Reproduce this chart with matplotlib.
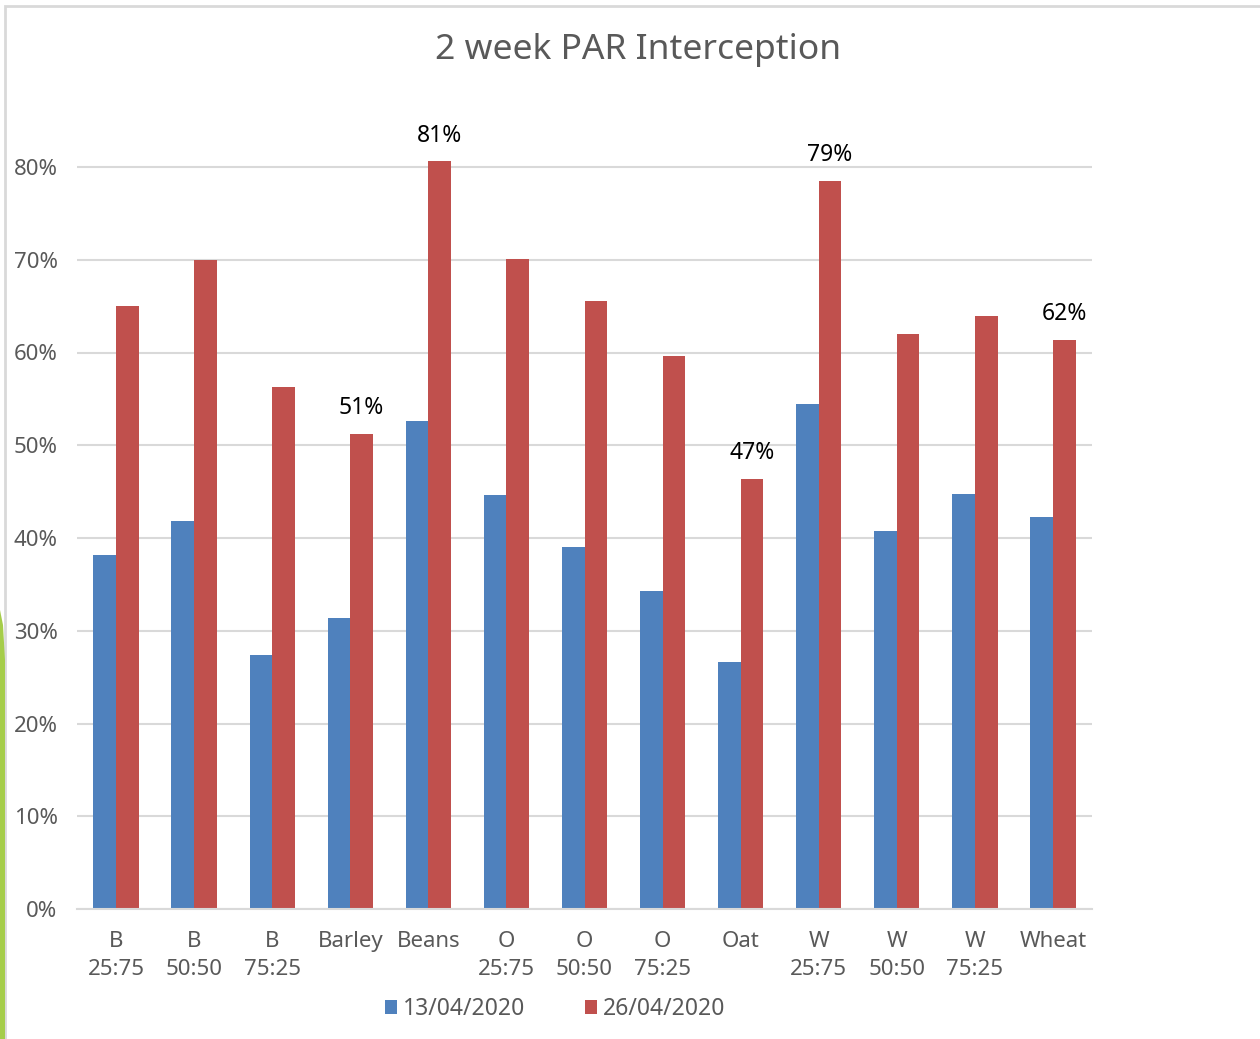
import numpy as np
import matplotlib.pyplot as plt
from matplotlib.patches import Rectangle, Polygon

categories = ["B\n25:75", "B\n50:50", "B\n75:25", "Barley", "Beans", "O\n25:75", "O\n50:50",
              "O\n75:25", "Oat", "W\n25:75", "W\n50:50", "W\n75:25", "Wheat"]
# values (fractions)
apr13 = [0.382, 0.418, 0.274, 0.314, 0.526, 0.446, 0.390, 0.343, 0.266, 0.544, 0.408, 0.447, 0.423]
apr26 = [0.650, 0.700, 0.563, 0.512, 0.806, 0.701, 0.656, 0.596, 0.464, 0.785, 0.620, 0.639, 0.614]
series_names = ["13/04/2020", "26/04/2020"]
# only some bars carry a data label
labelled = {"Barley": "51%", "Beans": "81%", "Oat": "47%", "W\n25:75": "79%", "Wheat": "62%"}

blue = "#4F81BD"
red = "#C0504D"
text_col = "#595959"

plt.rcParams['font.family'] = ['Noto Sans', 'DejaVu Sans']

fig = plt.figure(figsize=(12.6, 10.39), dpi=100)
# axes spans 0..85%, gridlines stop at 80%
ax = fig.add_axes([77/1260, 1 - 909/1039, (1092-77)/1260, (0.85*927.5)/1039])

x = np.arange(len(categories))
w = 0.29
ax.bar(x - w/2, apr13, w, color=blue, label=series_names[0], zorder=2)
ax.bar(x + w/2, apr26, w, color=red, label=series_names[1], zorder=2)

for i, cat in enumerate(categories):
    if cat in labelled:
        ax.annotate(labelled[cat], (x[i] + w/2, apr26[i]), xytext=(0, 10), textcoords='offset points',
                    ha='center', va='bottom', fontsize=16.5, color='black', annotation_clip=False)

ax.set_xlim(-0.5, len(categories) - 0.5)
ax.set_ylim(0, 0.85)
ticks = np.arange(0, 0.81, 0.1)
ax.set_yticks(ticks)
ax.set_yticklabels([f"{int(round(v*100))}%" for v in ticks])
ax.set_xticks(x)
ax.set_xticklabels(categories)
ax.tick_params(axis='both', length=0, labelsize=16, colors=text_col)
ax.tick_params(axis='y', pad=14)
ax.tick_params(axis='x', pad=16)
ax.yaxis.grid(True, color="#D9D9D9", linewidth=1.5, zorder=0)
ax.set_axisbelow(True)
for s in ['top', 'right', 'left']:
    ax.spines[s].set_visible(False)
ax.spines['bottom'].set_color("#D9D9D9")
ax.spines['bottom'].set_linewidth(1.5)
for lbl in ax.get_xticklabels():
    lbl.set_linespacing(1.45)

fig.text(638/1260, 1 - 50/1039, "2 week PAR Interception", ha='center', va='center',
         fontsize=25.5, color=text_col)

fig.legend(loc='center', bbox_to_anchor=(555/1260, 1 - 1009/1039), ncol=2, frameon=False,
           fontsize=16.5, handlelength=0.55, handleheight=0.55, handletextpad=0.25, columnspacing=2.6,
           labelcolor=text_col)

# chart frame and slide decoration
fig.patches.append(Rectangle((5/1260, -0.1), 1.2, 1 - 6/1039 + 0.1, transform=fig.transFigure,
                             fill=False, edgecolor="#D9D9D9", linewidth=2))
fig.patches.append(Polygon([(0, 1 - 610/1039), (3/1260, 1 - 625/1039), (5/1260, 1 - 660/1039),
                            (5/1260, 0), (0, 0)], closed=True, transform=fig.transFigure,
                           facecolor="#A5CD4A", edgecolor='none'))

fig.savefig("out.png", dpi=100)
